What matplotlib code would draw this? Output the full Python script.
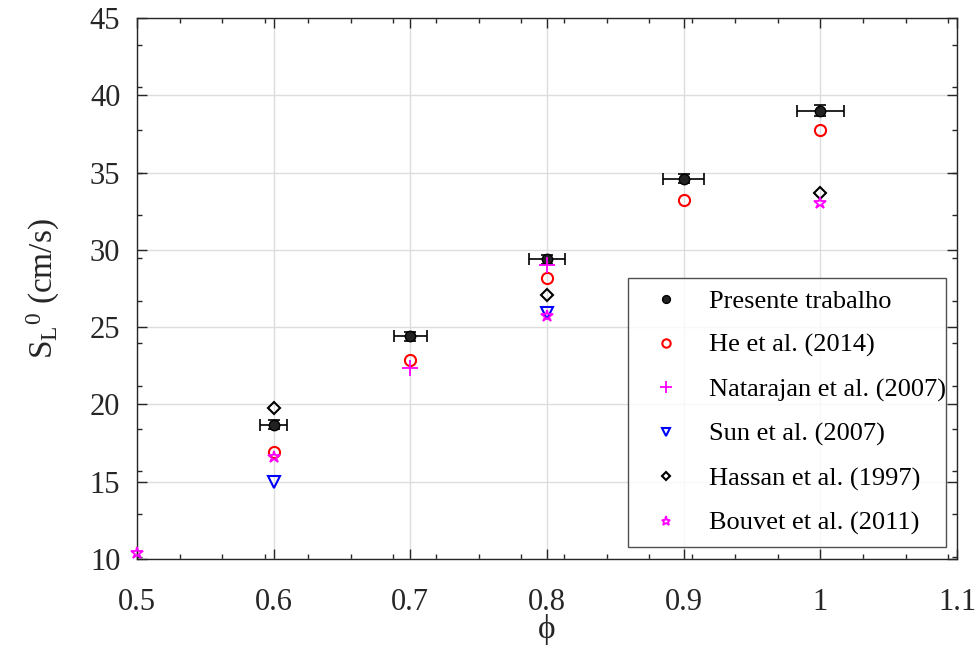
import numpy as np
import matplotlib
matplotlib.use("Agg")
import matplotlib.pyplot as plt
from matplotlib.ticker import FixedLocator
from matplotlib.lines import Line2D

plt.rcParams['font.family'] = ['Liberation Serif', 'DejaVu Serif']
plt.rcParams['mathtext.fontset'] = 'custom'
plt.rcParams['mathtext.rm'] = 'Liberation Serif'
plt.rcParams['mathtext.it'] = 'Liberation Serif:italic'

# Data
phi_pres = [0.6, 0.7, 0.8, 0.9, 1.0]
sl_pres = [18.7, 24.4, 29.4, 34.6, 39.0]
sl_pres_err = [0.3, 0.3, 0.3, 0.3, 0.35]
phi_pres_err = [0.010, 0.012, 0.013, 0.015, 0.017]

phi_he = [0.6, 0.7, 0.8, 0.9, 1.0]
sl_he = [16.9, 22.85, 28.2, 33.2, 37.75]

phi_nat = [0.7, 0.8]
sl_nat = [22.35, 29.0]

phi_sun = [0.6, 0.8]
sl_sun = [15.0, 25.9]

phi_has = [0.6, 0.8, 1.0]
sl_has = [19.75, 27.1, 33.7]

phi_bou = [0.5, 0.6, 0.8, 1.0]
sl_bou = [10.4, 16.6, 25.7, 33.0]

labels = ['Presente trabalho', 'He et al. (2014)', 'Natarajan et al. (2007)',
          'Sun et al. (2007)', 'Hassan et al. (1997)', 'Bouvet et al. (2011)']

fig = plt.figure(figsize=(9.77, 6.45), dpi=100)
ax = fig.add_axes([0.1402, 0.1333, 0.8393, 0.8388])

ax.grid(True, color='#dddddd', linewidth=1.0, zorder=0)
ax.set_axisbelow(True)

ax.errorbar(phi_pres, sl_pres, yerr=sl_pres_err, xerr=phi_pres_err, fmt='o',
            color='black', mfc='#222222', mec='black', ms=7.5, ecolor='black',
            elinewidth=1.2, capsize=4, capthick=1.2, zorder=5)
h1 = Line2D([], [], linestyle='none', marker='o', mfc='#222222', mec='black', ms=7.5)
h2, = ax.plot(phi_he, sl_he, 'o', mfc='none', mec='red', mew=1.5, ms=8, zorder=4)
h3, = ax.plot(phi_nat, sl_nat, '+', color='magenta', mew=1.3, ms=11, zorder=6)
h4, = ax.plot(phi_sun, sl_sun, 'v', mfc='none', mec='blue', mew=1.5, ms=8.5, zorder=4)
h5, = ax.plot(phi_has, sl_has, 'D', mfc='none', mec='black', mew=1.5, ms=6, zorder=4)
h6, = ax.plot(phi_bou, sl_bou, '*', mfc='none', mec='magenta', mew=1.3, ms=9, zorder=7,
              clip_on=False)

ax.set_xlim(0.5, 1.1)
ax.set_ylim(10, 45)
ax.set_xticks([0.5, 0.6, 0.7, 0.8, 0.9, 1.0, 1.1])
ax.set_xticklabels(['0.5', '0.6', '0.7', '0.8', '0.9', '1', '1.1'])
ax.set_yticks(np.arange(10, 46, 5))
ax.xaxis.set_minor_locator(FixedLocator(np.arange(0.5, 1.1001, 0.03125)))
ax.yaxis.set_minor_locator(FixedLocator(np.arange(45 - 1.73, 10, -2.76)))

ax.tick_params(which='both', direction='in', top=True, right=True, colors='#262626',
               labelcolor='#262626', labelsize=22, width=1.0)
ax.tick_params(which='major', length=7)
ax.tick_params(which='minor', length=3.5)
ax.tick_params(axis='x', which='major', pad=21)
ax.tick_params(axis='y', which='major', pad=12)
for s in ax.spines.values():
    s.set_color('#262626')
    s.set_linewidth(1.0)

ax.set_xlabel('ϕ', fontsize=24, color='#262626', labelpad=-2,
              family=['Liberation Serif', 'DejaVu Serif'])
ax.set_ylabel(r'$\mathrm{S_L{}^{0}}$ (cm/s)', fontsize=24, color='#262626', labelpad=20)

leg = ax.legend([h1, h2, h3, h4, h5, h6], labels,
                loc='lower left', bbox_to_anchor=(0.599, 0.022, 0.388, 0.508),
                mode='expand', fontsize=19, frameon=True, fancybox=False,
                edgecolor='#262626', labelspacing=0.78, borderpad=0.45,
                handletextpad=0.6, handlelength=2.0, markerscale=0.75, borderaxespad=0)
leg.get_frame().set_linewidth(1.0)

fig.savefig('out.png', dpi=100)
